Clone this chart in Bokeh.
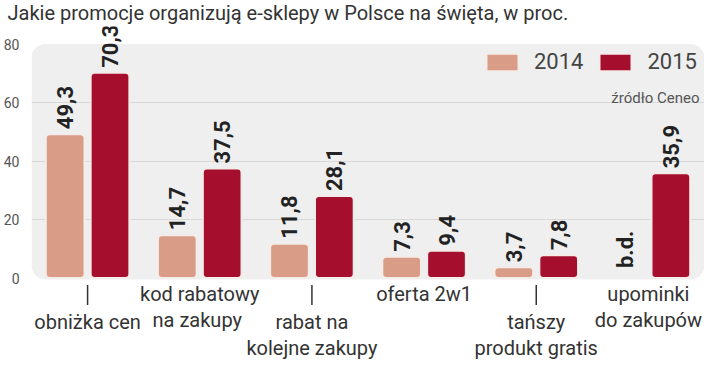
import math
from bokeh.plotting import figure
from bokeh.models import (ColumnDataSource, FactorRange, FixedTicker, BoxAnnotation,
                          Legend, LegendItem, Label, LabelSet, Range1d)
from bokeh.transform import dodge
from bokeh.core.properties import value
from bokeh.embed import file_html
from bokeh.resources import INLINE

# ---------------- data ----------------
title_text = "Jakie promocje organizują e-sklepy w Polsce na święta, w proc."
categories = [
    "obniżka cen",
    "kod rabatowy\nna  zakupy",
    "rabat na\nkolejne zakupy",
    "oferta 2w1",
    "tańszy\nprodukt gratis",
    "upominki\ndo zakupów",
]
years = ["2014", "2015"]
values_2014 = [49.3, 14.7, 11.8, 7.3, 3.7, None]
values_2015 = [70.3, 37.5, 28.1, 9.4, 7.8, 35.9]
missing_label = "b.d."
source_note = "źródło Ceneo"
y_ticks = [0, 20, 40, 60, 80]

# ---------------- style / layout ----------------
W, H = 704, 364
LEFT = 24
TOP = 26                      # title band
PX_PER_UNIT = 2.92
TOP_TICK_Y = 44               # pixel row of the top tick
Y_MAX = y_ticks[-1]
Y_END = Y_MAX + (TOP_TICK_Y - TOP) / PX_PER_UNIT
Y_START = Y_END - (H - TOP) / PX_PER_UNIT
C14 = "#d99c87"
C15 = "#a50e2d"
FONT = "Roboto"
OFFSET = 0.2
BAR_W = 0.345


def fmt(v):
    return f"{v:.1f}".replace(".", ",")


nan = float("nan")
v14 = [nan if v is None else v for v in values_2014]
lab14 = ["" if v is None else fmt(v) for v in values_2014]
lab15 = [fmt(v) for v in values_2015]

src = ColumnDataSource(dict(cat=categories, v14=v14, v15=values_2015, l14=lab14, l15=lab15))
missing = [c for c, v in zip(categories, values_2014) if v is None]
src_missing = ColumnDataSource(dict(cat=missing, y=[0] * len(missing), t=[missing_label] * len(missing)))

p = figure(width=W, height=H,
           x_range=FactorRange(factors=categories, range_padding=0),
           y_range=Range1d(Y_START, Y_END),
           output_backend="svg", toolbar_location=None,
           x_axis_location=None, title=title_text,
           min_border_left=LEFT, min_border_right=0, min_border_top=TOP, min_border_bottom=0,
           outline_line_color=None)

p.title.text_font = FONT
p.title.text_font_size = "20px"
p.title.text_font_style = "normal"
p.title.text_color = "#333333"
p.title.align = "left"
p.title.vertical_align = "top"
p.title.offset = -LEFT
p.title.standoff = 0

# rounded light panel behind the bars
panel = BoxAnnotation(bottom=-0.45, top=Y_MAX + 0.2, fill_color="#efefef", fill_alpha=1.0,
                      line_color=None, border_radius=14, level="image")
p.add_layout(panel)

p.xgrid.visible = False
p.ygrid.ticker = FixedTicker(ticks=[20, 40, 60])
p.ygrid.grid_line_color = "#d8d8d8"
p.ygrid.grid_line_width = 1

ax = p.yaxis[0]
ax.ticker = FixedTicker(ticks=y_ticks)
ax.axis_line_color = None
ax.major_tick_line_color = None
ax.minor_tick_line_color = None
ax.major_label_standoff = 6
ax.major_label_text_font = FONT
ax.major_label_text_font_size = "14px"
ax.major_label_text_color = "#555555"

r14 = p.vbar(x=dodge("cat", -OFFSET, range=p.x_range), top="v14", width=BAR_W, source=src,
             fill_color=C14, line_color="#f3ece9", line_width=2, border_radius=4)
r15 = p.vbar(x=dodge("cat", OFFSET, range=p.x_range), top="v15", width=BAR_W, source=src,
             fill_color=C15, line_color="#f3ece9", line_width=2, border_radius=4)

lab_kw = dict(angle=math.pi / 2, text_align="left", text_baseline="middle",
              text_font=value(FONT), text_font_style="bold", text_font_size="22px",
              text_color="#222222")
p.add_layout(LabelSet(x=dodge("cat", -OFFSET, range=p.x_range), y="v14", text="l14",
                      y_offset=5, source=src, **lab_kw))
p.add_layout(LabelSet(x=dodge("cat", OFFSET, range=p.x_range), y="v15", text="l15",
                      y_offset=5, source=src, **lab_kw))
p.add_layout(LabelSet(x=dodge("cat", -OFFSET, range=p.x_range), y="y", text="t",
                      y_offset=10, source=src_missing, **lab_kw))

# category labels, staggered
upper = categories[1::2]
lower = categories[0::2]
src_up = ColumnDataSource(dict(cat=upper, y=[0] * len(upper), t=upper))
src_lo = ColumnDataSource(dict(cat=lower, y=[0] * len(lower), t=lower,
                               y0=[-7 / PX_PER_UNIT] * len(lower),
                               y1=[-27 / PX_PER_UNIT] * len(lower)))
cat_kw = dict(text_align="center", text_baseline="top", text_font=value(FONT),
              text_font_size="20px", text_color="#333333", text_line_height=1.1)
p.text(x="cat", y="y", text="t", y_offset=4, source=src_up, **cat_kw)
p.text(x="cat", y="y", text="t", y_offset=32, source=src_lo, **cat_kw)
p.segment(x0="cat", y0="y0", x1="cat", y1="y1", source=src_lo, line_color="#333333", line_width=1.5)

legend = Legend(items=[LegendItem(label=years[0], renderers=[r14]),
                       LegendItem(label=years[1], renderers=[r15])],
                orientation="horizontal", location=(451, 290),
                glyph_width=40, glyph_height=22, label_standoff=12, spacing=12,
                padding=0, margin=0, background_fill_alpha=0, border_line_color=None,
                label_text_font=FONT, label_text_font_size="22px", label_text_color="#444444")
p.add_layout(legend)

note = Label(x=len(categories), y=Y_MAX, x_offset=-5, y_offset=-44, text=source_note,
             text_align="right", text_baseline="top", text_font=FONT,
             text_font_size="15px", text_color="#555555")
p.add_layout(note)

p.border_fill_color = "white"
p.background_fill_color = "white"

open("out.html", "w").write(file_html(p, INLINE))
